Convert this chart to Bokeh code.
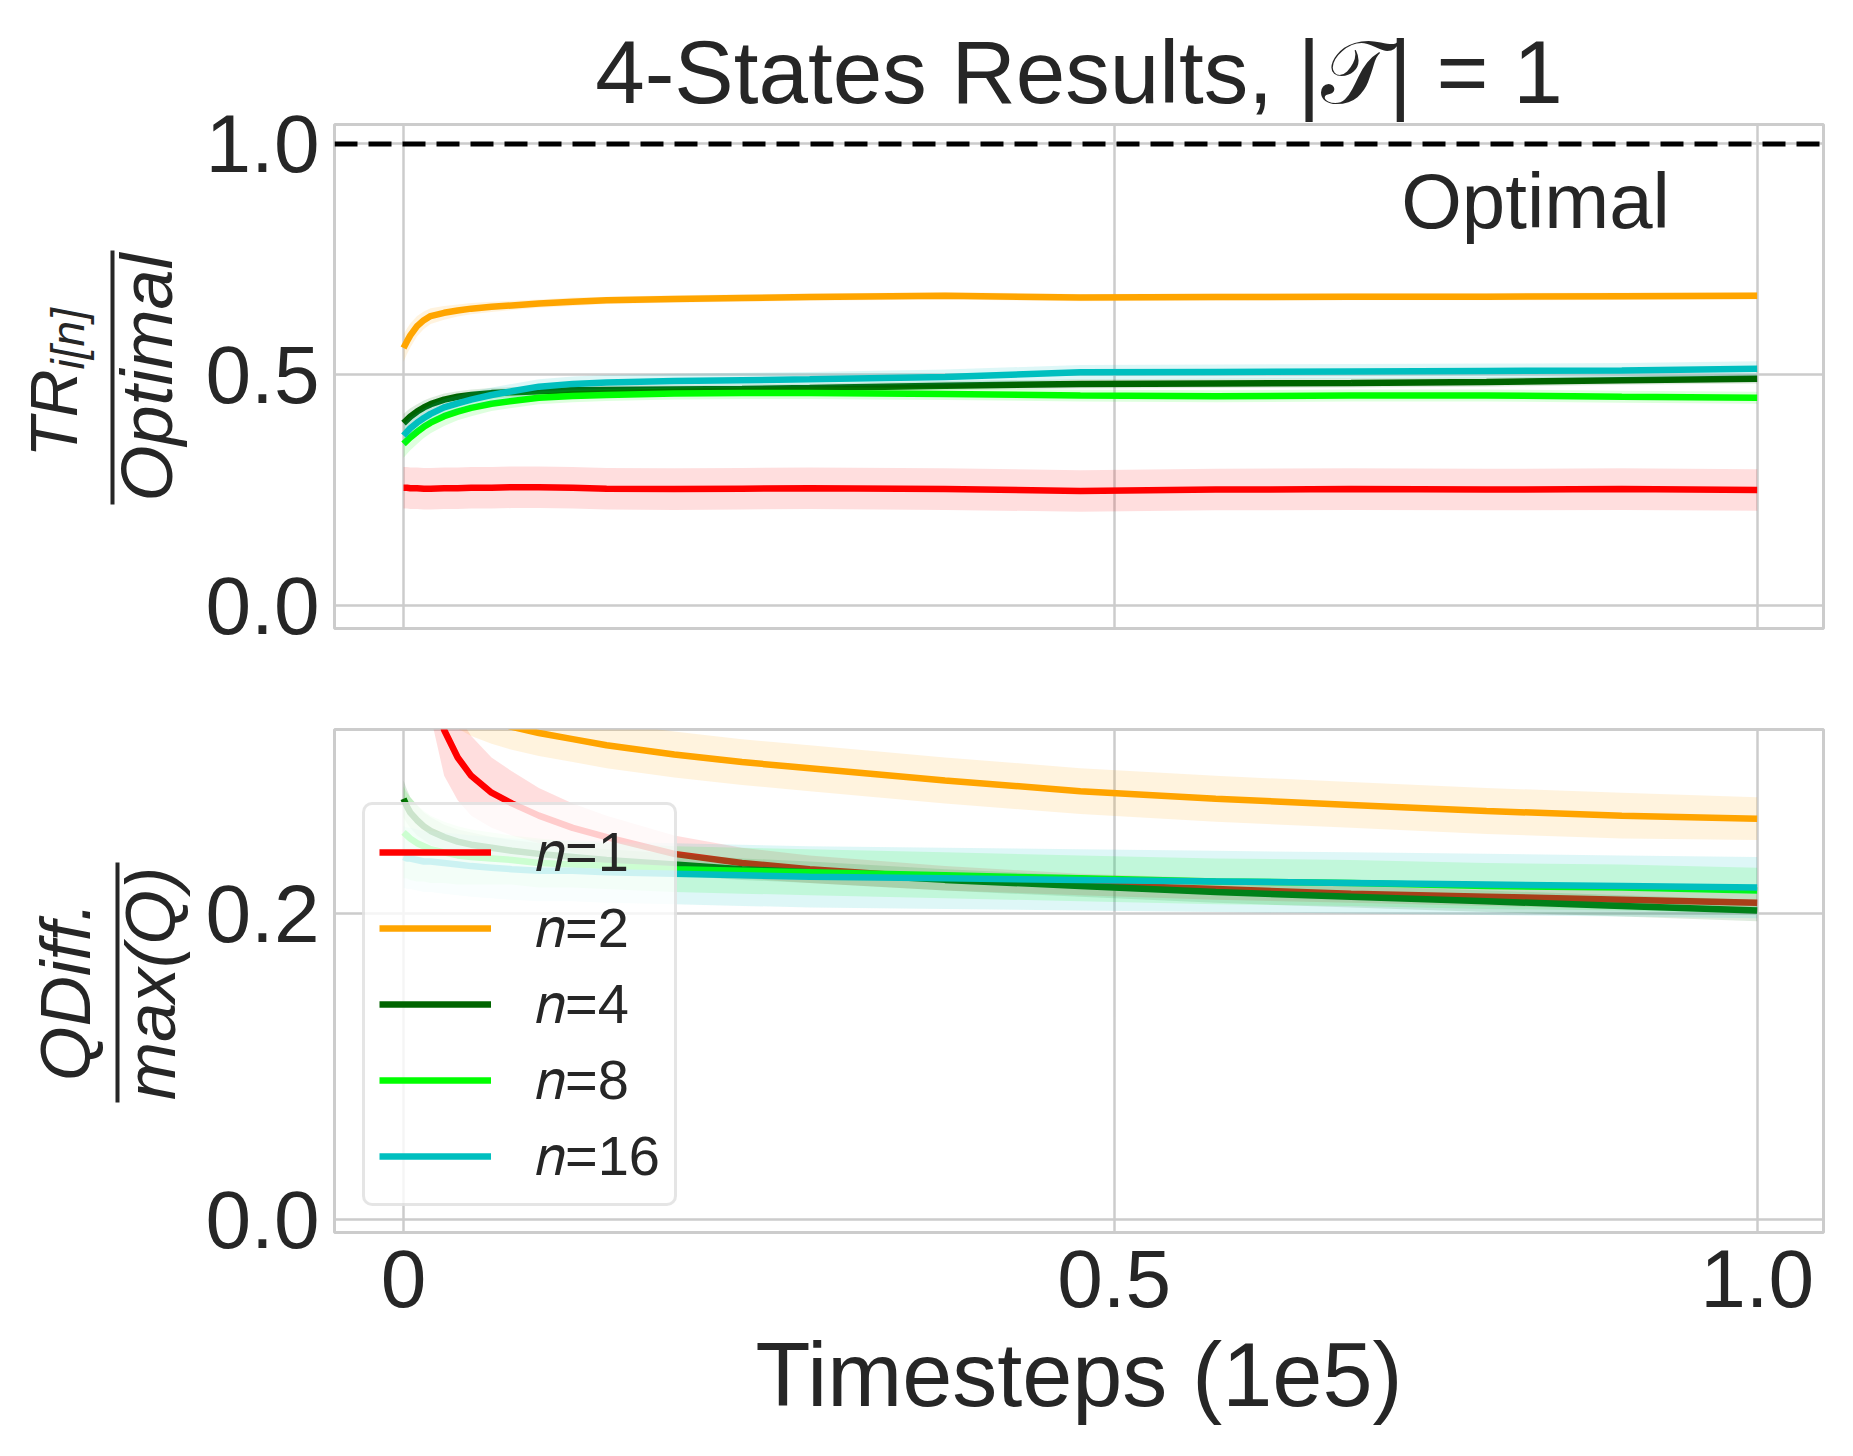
import math
from bokeh.plotting import figure
from bokeh.layouts import column, row
from bokeh.models import Span, FixedTicker, Legend, LegendItem, Range1d, Label
from bokeh.core.properties import value
from bokeh.embed import file_html
from bokeh.resources import INLINE

# ---------------- data ----------------
X = [0, 0.0025, 0.005, 0.01, 0.015, 0.02, 0.03, 0.04, 0.05, 0.065, 0.08, 0.1,
     0.125, 0.15, 0.2, 0.25, 0.3, 0.4, 0.5, 0.6, 0.7, 0.8, 0.9, 1.0]

SERIES = ["𝑛=1", "𝑛=2", "𝑛=4", "𝑛=8", "𝑛=16"]
COLORS = ["#ff0000", "#ffa500", "#006400", "#00ff00", "#00bfbf"]

# normalised total reward TR / Optimal
tr_n1 = [0.255, 0.255, 0.254, 0.254, 0.253, 0.253, 0.254, 0.254, 0.255, 0.255,
         0.256, 0.256, 0.255, 0.253, 0.252, 0.253, 0.254, 0.252, 0.248, 0.251,
         0.252, 0.251, 0.252, 0.250]
tr_n2 = [0.558, 0.572, 0.585, 0.605, 0.618, 0.627, 0.634, 0.639, 0.643, 0.647,
         0.650, 0.654, 0.658, 0.661, 0.664, 0.666, 0.668, 0.671, 0.667, 0.668,
         0.669, 0.669, 0.670, 0.671]
tr_n4 = [0.395, 0.402, 0.409, 0.420, 0.429, 0.436, 0.446, 0.452, 0.456, 0.460,
         0.462, 0.464, 0.466, 0.467, 0.468, 0.469, 0.471, 0.476, 0.480, 0.481,
         0.482, 0.484, 0.488, 0.491]
tr_n8 = [0.350, 0.357, 0.364, 0.376, 0.387, 0.396, 0.410, 0.420, 0.428, 0.437,
         0.443, 0.450, 0.454, 0.456, 0.459, 0.460, 0.460, 0.458, 0.455, 0.453,
         0.455, 0.455, 0.452, 0.450]
tr_n16 = [0.368, 0.376, 0.384, 0.396, 0.406, 0.415, 0.429, 0.438, 0.446, 0.456,
          0.464, 0.474, 0.480, 0.483, 0.486, 0.488, 0.490, 0.495, 0.505, 0.506,
          0.507, 0.508, 0.509, 0.513]

tr_sd1 = [0.045, 0.045, 0.045, 0.045, 0.045, 0.045, 0.045, 0.045, 0.045, 0.045,
          0.045, 0.045, 0.045, 0.045, 0.045, 0.045, 0.045, 0.045, 0.045, 0.045,
          0.045, 0.045, 0.045, 0.045]
tr_sd2 = [0.030, 0.028, 0.026, 0.022, 0.019, 0.017, 0.015, 0.013, 0.012, 0.011,
          0.010, 0.009, 0.009, 0.008, 0.008, 0.008, 0.008, 0.008, 0.008, 0.008,
          0.008, 0.008, 0.008, 0.008]
tr_sd4 = [0.020, 0.019, 0.018, 0.016, 0.015, 0.014, 0.013, 0.012, 0.012, 0.011,
          0.011, 0.010, 0.010, 0.010, 0.010, 0.010, 0.010, 0.010, 0.010, 0.010,
          0.010, 0.010, 0.010, 0.010]
tr_sd8 = [0.030, 0.029, 0.028, 0.026, 0.024, 0.023, 0.021, 0.019, 0.018, 0.016,
          0.015, 0.014, 0.014, 0.013, 0.013, 0.013, 0.013, 0.013, 0.013, 0.013,
          0.013, 0.013, 0.013, 0.013]
tr_sd16 = [0.025, 0.024, 0.023, 0.021, 0.020, 0.019, 0.018, 0.017, 0.017, 0.016,
           0.016, 0.016, 0.016, 0.016, 0.016, 0.016, 0.016, 0.016, 0.016, 0.016,
           0.016, 0.016, 0.016, 0.016]

# normalised Q difference
qd_n1 = [1.200, 0.700, 0.575, 0.462, 0.403, 0.362, 0.320, 0.302, 0.290, 0.279,
         0.272, 0.264, 0.256, 0.250, 0.239, 0.233, 0.229, 0.223, 0.219, 0.216,
         0.213, 0.211, 0.209, 0.207]
qd_n2 = [0.372, 0.368, 0.364, 0.358, 0.353, 0.349, 0.342, 0.336, 0.331, 0.326,
         0.322, 0.318, 0.314, 0.310, 0.304, 0.299, 0.295, 0.287, 0.280, 0.275,
         0.271, 0.267, 0.264, 0.262]
qd_n4 = [0.275, 0.270, 0.266, 0.261, 0.257, 0.254, 0.250, 0.247, 0.245, 0.243,
         0.241, 0.239, 0.237, 0.235, 0.232, 0.229, 0.227, 0.222, 0.218, 0.214,
         0.211, 0.208, 0.205, 0.202]
qd_n8 = [0.253, 0.251, 0.249, 0.246, 0.244, 0.242, 0.240, 0.238, 0.237, 0.236,
         0.235, 0.233, 0.232, 0.231, 0.229, 0.228, 0.227, 0.225, 0.223, 0.221,
         0.220, 0.218, 0.217, 0.215]
qd_n16 = [0.237, 0.236, 0.236, 0.235, 0.234, 0.234, 0.233, 0.232, 0.231, 0.230,
          0.229, 0.228, 0.228, 0.227, 0.226, 0.225, 0.224, 0.223, 0.222, 0.221,
          0.220, 0.219, 0.218, 0.217]

qd_sd1 = [0.080, 0.060, 0.050, 0.040, 0.036, 0.033, 0.030, 0.028, 0.026, 0.023,
          0.021, 0.018, 0.016, 0.014, 0.012, 0.010, 0.009, 0.008, 0.007, 0.007,
          0.006, 0.006, 0.006, 0.006]
qd_sd2 = [0.015, 0.015, 0.015, 0.015, 0.015, 0.015, 0.015, 0.015, 0.015, 0.015,
          0.015, 0.015, 0.015, 0.015, 0.015, 0.015, 0.015, 0.015, 0.015, 0.015,
          0.015, 0.015, 0.015, 0.014]
qd_sd4 = [0.012, 0.011, 0.010, 0.010, 0.009, 0.009, 0.008, 0.008, 0.008, 0.007,
          0.007, 0.007, 0.007, 0.007, 0.007, 0.007, 0.007, 0.007, 0.007, 0.007,
          0.007, 0.007, 0.007, 0.007]
qd_sd8 = [0.030, 0.028, 0.027, 0.025, 0.023, 0.022, 0.020, 0.019, 0.018, 0.017,
          0.016, 0.016, 0.015, 0.015, 0.015, 0.015, 0.015, 0.015, 0.015, 0.015,
          0.015, 0.015, 0.015, 0.015]
qd_sd16 = [0.020, 0.020, 0.020, 0.020, 0.020, 0.020, 0.020, 0.020, 0.020, 0.020,
           0.020, 0.020, 0.020, 0.020, 0.020, 0.020, 0.020, 0.020, 0.020, 0.020,
           0.020, 0.020, 0.020, 0.020]

OPTIMAL = 1.0
X_TICKS = [0, 0.525, 1.0]
X_TICK_LABELS = ["0", "0.5", "1.0"]
TR_TICKS = [0.0, 0.5, 1.0]
QD_TICKS = [0.0, 0.2]

TITLE = "4-States Results, |𝒯| = 1"
XLABEL = "Timesteps (1e5)"
OPT_TEXT = "Optimal"

FONT = "Liberation Sans"
TXT = "#262626"
GRID = "#cccccc"

LAB_W = 190      # width of the y-label strip
FW = 1489        # frame width


# ---------------- helpers ----------------
def style(p, yticks):
    p.outline_line_color = GRID
    p.outline_line_width = 3
    p.xgrid.grid_line_color = GRID
    p.ygrid.grid_line_color = GRID
    p.xgrid.grid_line_width = 2.5
    p.ygrid.grid_line_width = 2.5
    p.xaxis.ticker = FixedTicker(ticks=X_TICKS)
    p.yaxis.ticker = FixedTicker(ticks=yticks)
    p.yaxis.major_label_overrides = {t: "%.1f" % t for t in yticks}
    p.xaxis.major_label_overrides = dict(zip(X_TICKS, X_TICK_LABELS))
    for ax in (p.xaxis, p.yaxis):
        ax.axis_line_color = None
        ax.major_tick_line_color = None
        ax.minor_tick_line_color = None
        ax.major_label_text_font = FONT
        ax.major_label_text_font_size = "82px"
        ax.major_label_text_color = TXT
    p.yaxis.major_label_standoff = 9
    p.xaxis.major_label_standoff = 11


def label_strip(fh, top, bottom):
    s = figure(frame_width=LAB_W, frame_height=fh, min_border=0,
               min_border_top=top, min_border_bottom=bottom,
               x_range=Range1d(0, LAB_W), y_range=Range1d(0, fh),
               x_axis_type=None, y_axis_type=None,
               output_backend="svg", toolbar_location=None)
    s.outline_line_color = None
    s.xgrid.visible = False
    s.ygrid.visible = False
    return s


def rtext(s, x, y, txt, size, align):
    s.text(x=[x], y=[y], text=[txt], angle=math.pi / 2, text_align=align,
           text_baseline="alphabetic", text_font=value(FONT),
           text_font_style="italic", text_font_size=value(size),
           text_color=TXT)


xr = Range1d(-0.051, 1.049)

# ---------------- top panel ----------------
p1 = figure(frame_width=FW, frame_height=504, min_border_left=334 - LAB_W,
            min_border_right=22, min_border_top=124, min_border_bottom=50,
            x_range=xr, y_range=Range1d(-0.05, 1.042),
            output_backend="svg", toolbar_location=None)
style(p1, TR_TICKS)
p1.xaxis.visible = False
p1.title.text = TITLE
p1.title.text_font = FONT
p1.title.text_font_size = "89px"
p1.title.text_font_style = "normal"
p1.title.text_color = TXT
p1.title.align = "center"
p1.title.standoff = 5
p1.title.offset = 18

for mean, sd, c in zip([tr_n1, tr_n2, tr_n4, tr_n8, tr_n16],
                       [tr_sd1, tr_sd2, tr_sd4, tr_sd8, tr_sd16], COLORS):
    p1.varea(x=X, y1=[m - s for m, s in zip(mean, sd)],
             y2=[m + s for m, s in zip(mean, sd)], fill_color=c, fill_alpha=0.13)
    p1.line(X, mean, line_color=c, line_width=6.5)

p1.add_layout(Span(location=OPTIMAL, dimension="width", line_color="black",
                   line_width=5, line_dash="23 11"))
p1.add_layout(Label(x=0.737, y=0.877, text=OPT_TEXT, text_font=FONT,
                    text_font_size="78px", text_color=TXT,
                    text_align="left", text_baseline="alphabetic"))

lab1 = label_strip(504, 124, 50)
rtext(lab1, 53, 171, "TR", "66px", "left")
rtext(lab1, 67, 259, "i[n]", "46px", "left")
lab1.segment(x0=[112], y0=[124], x1=[112], y1=[378], line_color=TXT,
             line_width=4)
rtext(lab1, 146, 251, "Optimal", "72px", "center")

# ---------------- bottom panel ----------------
p2 = figure(frame_width=FW, frame_height=503, min_border_left=334 - LAB_W,
            min_border_right=22, min_border_top=51, min_border_bottom=215,
            x_range=xr, y_range=Range1d(-0.0085, 0.3203),
            output_backend="svg", toolbar_location=None)
style(p2, QD_TICKS)
p2.xaxis.axis_label = XLABEL
p2.xaxis.axis_label_text_font = FONT
p2.xaxis.axis_label_text_font_size = "90px"
p2.xaxis.axis_label_text_font_style = "normal"
p2.xaxis.axis_label_text_color = TXT
p2.xaxis.axis_label_standoff = 15

items = []
for name, mean, sd, c in zip(SERIES, [qd_n1, qd_n2, qd_n4, qd_n8, qd_n16],
                             [qd_sd1, qd_sd2, qd_sd4, qd_sd8, qd_sd16], COLORS):
    r = p2.line(X, mean, line_color=c, line_width=6.5)
    p2.varea(x=X, y1=[m - s for m, s in zip(mean, sd)],
             y2=[m + s for m, s in zip(mean, sd)], fill_color=c, fill_alpha=0.13)
    items.append(LegendItem(label=name, renderers=[r]))

legend = Legend(items=items, location=(28, 26), label_text_font=FONT,
                label_text_font_size="56px", label_text_color=TXT,
                glyph_width=112, glyph_height=62, label_height=62,
                label_standoff=44, spacing=10, padding=14, margin=0,
                border_line_color=GRID, border_line_width=3,
                background_fill_color="white", background_fill_alpha=0.8)
if "border_radius" in Legend.properties():
    legend.border_radius = 10
p2.add_layout(legend)

lab2 = label_strip(503, 51, 215)
rtext(lab2, 65, 241, "QDiff.", "70px", "center")
lab2.segment(x0=[117], y0=[130], x1=[117], y1=[370], line_color=TXT,
             line_width=4)
rtext(lab2, 150, 249, "max(Q)", "70px", "center")

layout = column(row(lab1, p1), row(lab2, p2))
open("out.html", "w").write(file_html(layout, INLINE))
